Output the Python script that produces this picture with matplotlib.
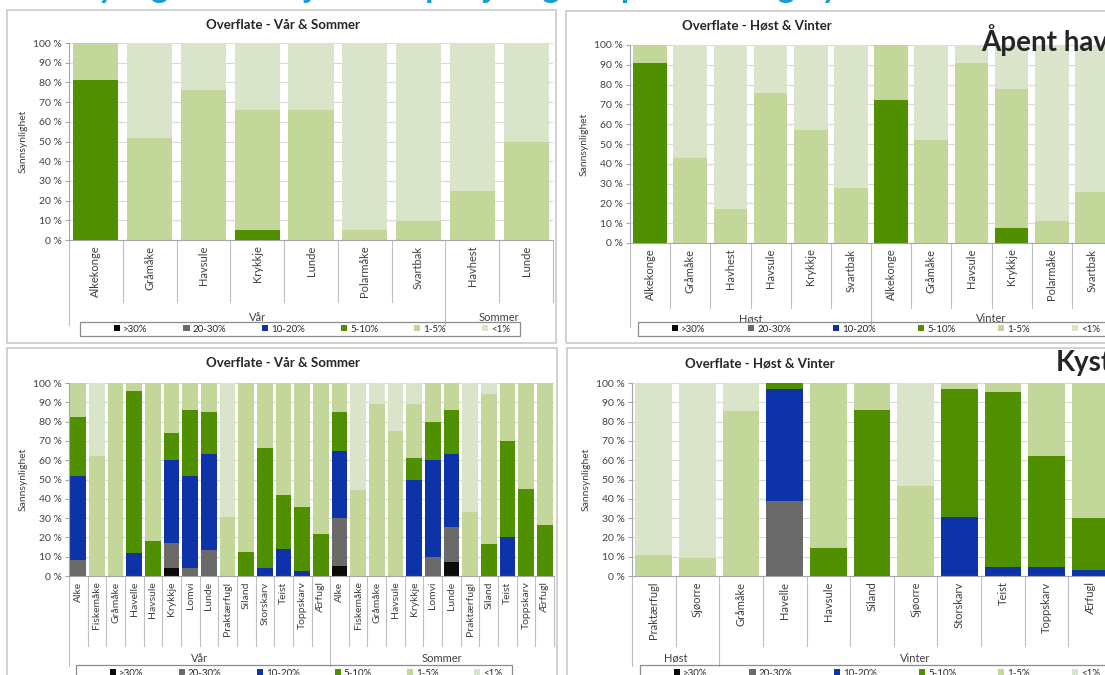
import numpy as np
import matplotlib
matplotlib.use("Agg")
import matplotlib.pyplot as plt
from matplotlib.patches import Rectangle, Patch
from matplotlib.transforms import blended_transform_factory

plt.rcParams['font.family'] = ['Lato', 'DejaVu Sans']

W, H = 1105, 675

classes = ['>30%', '20-30%', '10-20%', '5-10%', '1-5%', '<1%']
colors = ['#0a0a0a', '#6a6a6a', '#0e32a8', '#4f8f00', '#c4d79b', '#dae4cb']

# Åpent hav - vår og sommer
hav_vs_labels = ['Alkekonge', 'Gråmåke', 'Havsule', 'Krykkje', 'Lunde', 'Polarmåke', 'Svartbak',
                 'Havhest', 'Lunde']
hav_vs_groups = [('Vår', 7), ('Sommer', 2)]
hav_vs_gt30 = [0, 0, 0, 0, 0, 0, 0, 0, 0]
hav_vs_20_30 = [0, 0, 0, 0, 0, 0, 0, 0, 0]
hav_vs_10_20 = [0, 0, 0, 0, 0, 0, 0, 0, 0]
hav_vs_5_10 = [81, 0, 0, 5, 0, 0, 0, 0, 0]
hav_vs_1_5 = [19, 52, 76, 61, 66, 5, 9.5, 25, 50]
hav_vs_lt1 = [0, 48, 24, 34, 34, 95, 90.5, 75, 50]

# Åpent hav - høst og vinter
hav_hv_labels = ['Alkekonge', 'Gråmåke', 'Havhest', 'Havsule', 'Krykkje', 'Svartbak',
                 'Alkekonge', 'Gråmåke', 'Havsule', 'Krykkje', 'Polarmåke', 'Svartbak']
hav_hv_groups = [('Høst', 6), ('Vinter', 6)]
hav_hv_gt30 = [0, 0, 0, 0, 0, 0, 0, 0, 0, 0, 0, 0]
hav_hv_20_30 = [0, 0, 0, 0, 0, 0, 0, 0, 0, 0, 0, 0]
hav_hv_10_20 = [0, 0, 0, 0, 0, 0, 0, 0, 0, 0, 0, 0]
hav_hv_5_10 = [91, 0, 0, 0, 0, 0, 72, 0, 0, 7.5, 0, 0]
hav_hv_1_5 = [9, 43, 17, 76, 57, 28, 28, 52, 91, 70.5, 11, 26]
hav_hv_lt1 = [0, 57, 83, 24, 43, 72, 0, 48, 9, 22, 89, 74]

# Kyst - vår og sommer
kyst_vs_labels = ['Alke', 'Fiskemåke', 'Gråmåke', 'Havelle', 'Havsule', 'Krykkje', 'Lomvi',
                  'Lunde', 'Praktærfugl', 'Siland', 'Storskarv', 'Teist', 'Toppskarv', 'Ærfugl',
                  'Alke', 'Fiskemåke', 'Gråmåke', 'Havsule', 'Krykkje', 'Lomvi', 'Lunde',
                  'Praktærfugl', 'Siland', 'Teist', 'Toppskarv', 'Ærfugl']
kyst_vs_groups = [('Vår', 14), ('Sommer', 12)]
kyst_vs_gt30 = [0, 0, 0, 0, 0, 4, 0, 0, 0, 0, 0, 0, 0, 0,
                5, 0, 0, 0, 0, 0, 7, 0, 0, 0, 0, 0]
kyst_vs_20_30 = [8.5, 0, 0, 0, 0, 13, 4, 13.5, 0, 0, 0, 0, 0, 0,
                 25, 0, 0, 0, 0, 10, 18.5, 0, 0, 0, 0, 0]
kyst_vs_10_20 = [43.5, 0, 0, 12, 0, 43, 48, 49.5, 0, 0, 4, 14, 2.5, 0,
                 35, 0, 0, 0, 50, 50, 37.5, 0, 0, 20, 0, 0]
kyst_vs_5_10 = [30.5, 0, 0, 84, 18, 14, 34, 22, 0, 12.5, 62.5, 28, 33, 22,
                20, 0, 0, 0, 11, 20, 23, 0, 16.5, 50, 45, 26.5]
kyst_vs_1_5 = [17.5, 62, 100, 4, 82, 26, 14, 15, 30.5, 87.5, 33.5, 58, 64.5, 78,
               15, 44.5, 89, 75, 28, 20, 14, 33, 78, 30, 55, 73.5]
kyst_vs_lt1 = [0, 38, 0, 0, 0, 0, 0, 0, 69.5, 0, 0, 0, 0, 0,
               0, 55.5, 11, 25, 11, 0, 0, 67, 5.5, 0, 0, 0]

# Kyst - høst og vinter
kyst_hv_labels = ['Praktærfugl', 'Sjøorre', 'Gråmåke', 'Havelle', 'Havsule', 'Siland', 'Sjøorre',
                  'Storskarv', 'Teist', 'Toppskarv', 'Ærfugl']
kyst_hv_groups = [('Høst', 2), ('Vinter', 9)]
kyst_hv_gt30 = [0, 0, 0, 0, 0, 0, 0, 0, 0, 0, 0]
kyst_hv_20_30 = [0, 0, 0, 39, 0, 0, 0, 0, 0, 0, 0]
kyst_hv_10_20 = [0, 0, 0, 58, 0, 0, 0, 30.5, 4.5, 4.5, 3]
kyst_hv_5_10 = [0, 0, 0, 3, 14.5, 86, 0, 66.5, 91, 57.5, 27]
kyst_hv_1_5 = [11, 9.5, 85.5, 0, 85.5, 14, 46.5, 3, 4.5, 38, 70]
kyst_hv_lt1 = [89, 90.5, 14.5, 0, 0, 0, 53.5, 0, 0, 0, 0]

fig = plt.figure(figsize=(W / 100, H / 100), dpi=100)
fig.patch.set_facecolor('white')

grey_txt = '#404040'


def fx(px):
    return px / W


def fy(py):
    return 1 - py / H


def panel(frame, plot, title, title_x, labels, groups, series, legend_box,
          inner_px, group_px, label_size):
    x0, y0, x1, y1 = frame
    fig.patches.append(Rectangle((fx(x0), fy(y1)), fx(x1 - x0), (y1 - y0) / H,
                                 transform=fig.transFigure, fill=False,
                                 ec='#c9c9c9', lw=1.2, zorder=0))
    fig.text(fx(title_x), fy(frame[1] + 15), title, ha='center', va='center',
             fontsize=9.5, fontweight='bold', color='#262626')

    p0, q0, p1, q1 = plot
    ax = fig.add_axes([fx(p0), fy(q1), fx(p1 - p0), (q1 - q0) / H])
    n = len(labels)
    x = np.arange(n)
    bottom = np.zeros(n)
    for vals, col in zip(series, colors):
        vals = np.asarray(vals, dtype=float)
        ax.bar(x, vals, 0.84, bottom=bottom, color=col, zorder=2, linewidth=0)
        bottom += vals

    ax.set_xlim(-0.5, n - 0.5)
    ax.set_ylim(0, 100)
    ax.set_yticks(np.arange(0, 101, 10))
    ax.set_yticklabels([f'{v} %' for v in range(0, 101, 10)], fontsize=7.5, color=grey_txt)
    ax.yaxis.grid(True, color='#d9d9d9', lw=0.8, zorder=0)
    ax.set_axisbelow(True)
    for s in ['top', 'right']:
        ax.spines[s].set_visible(False)
    ax.spines['left'].set_color('#a6a6a6')
    ax.spines['bottom'].set_color('#a6a6a6')
    ax.tick_params(axis='y', length=3, color='#a6a6a6', pad=2)
    ax.set_ylabel('Sannsynlighet', fontsize=7.5, color=grey_txt, labelpad=4)

    ax.set_xticks(x)
    ax.set_xticklabels(labels, rotation=90, fontsize=label_size, color=grey_txt)
    ax.tick_params(axis='x', length=0, pad=4)

    # multi-level category axis
    hpx = q1 - q0
    tr = blended_transform_factory(ax.transData, ax.transAxes)
    inner = -(inner_px - q1) / hpx
    outer = -(group_px + 8 - q1) / hpx
    bounds = [0]
    for _, cnt in groups:
        bounds.append(bounds[-1] + cnt)
    group_edges = set(bounds[:-1])
    for i in range(n + 1):
        yb = outer if i in group_edges else inner
        ax.plot([i - 0.5, i - 0.5], [0, yb], transform=tr, color='#bfbfbf',
                lw=0.8, clip_on=False)
    for (name, cnt), b in zip(groups, bounds):
        ax.text(b + cnt / 2 - 0.5, -(group_px - q1) / hpx, name, transform=tr,
                ha='center', va='center', fontsize=8, color=grey_txt)

    # legend: framed box with the entries spread inside it
    lx0, ly0, lx1, ly1 = legend_box
    fig.patches.append(Rectangle((fx(lx0), fy(ly1)), fx(lx1 - lx0), (ly1 - ly0) / H,
                                 transform=fig.transFigure, fill=False,
                                 ec='#8c8c8c', lw=0.9, zorder=3))
    handles = [Patch(facecolor=c, edgecolor='none') for c in colors]
    ax.legend(handles, classes, ncol=6, loc='center left', mode='expand',
              bbox_to_anchor=(fx(lx0 + 34), fy(ly1), fx(lx1 - lx0 - 44), (ly1 - ly0) / H),
              bbox_transform=fig.transFigure, fontsize=7, frameon=False,
              handlelength=0.65, handleheight=0.65, handletextpad=0.3, borderpad=0,
              borderaxespad=0, columnspacing=1.0, labelcolor='#262626')
    return ax


panel((7, 10, 556, 343), (69, 43, 553, 240), 'Overflate - Vår & Sommer', 283,
      hav_vs_labels, hav_vs_groups,
      [hav_vs_gt30, hav_vs_20_30, hav_vs_10_20, hav_vs_5_10, hav_vs_1_5, hav_vs_lt1],
      (80, 322, 520, 336), 302, 317, 8)

panel((566, 11, 1125, 343), (630, 45, 1112, 243), 'Overflate - Høst & Vinter', 757,
      hav_hv_labels, hav_hv_groups,
      [hav_hv_gt30, hav_hv_20_30, hav_hv_10_20, hav_hv_5_10, hav_hv_1_5, hav_hv_lt1],
      (638, 322, 1110, 336), 308, 319, 8)

panel((7, 348, 557, 690), (69, 383, 554, 576), 'Overflate - Vår & Sommer', 283,
      kyst_vs_labels, kyst_vs_groups,
      [kyst_vs_gt30, kyst_vs_20_30, kyst_vs_10_20, kyst_vs_5_10, kyst_vs_1_5, kyst_vs_lt1],
      (76, 665, 512, 681), 646, 658, 7.5)

panel((567, 348, 1125, 690), (632, 383, 1112, 576), 'Overflate - Høst & Vinter', 760,
      kyst_hv_labels, kyst_hv_groups,
      [kyst_hv_gt30, kyst_hv_20_30, kyst_hv_10_20, kyst_hv_5_10, kyst_hv_1_5, kyst_hv_lt1],
      (640, 665, 1110, 681), 646, 658, 8)

fig.text(fx(981), fy(40), 'Åpent hav', fontsize=20, fontweight='bold',
         color='#262626', ha='left', va='center')
fig.text(fx(1056), fy(363), 'Kyst', fontsize=20, fontweight='bold',
         color='#262626', ha='left', va='center')

# slide heading, mostly above the visible area
fig.text(fx(10), fy(3), 'Sannsynlighet for oljeskade på sjøfugl – åpent hav og kyst',
         fontsize=24, fontweight='bold', color='#1b9ad6', ha='left', va='bottom')

fig.savefig('out.png', dpi=100)
